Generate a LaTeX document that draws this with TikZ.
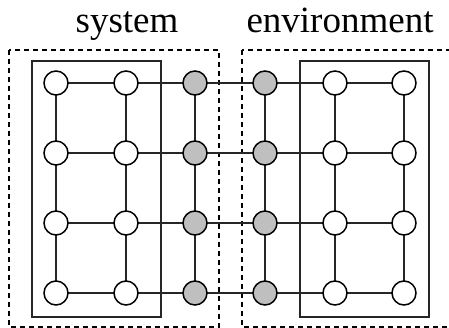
\documentclass[tikz,border=0pt]{standalone}
\usepackage{fontspec}
\setmainfont{Liberation Serif}
\begin{document}
\begin{tikzpicture}[x=1pt,y=-1pt,
  site/.style={circle,draw=black,line width=1.5pt,fill=white,minimum size=24pt,inner sep=0pt},
  bath/.style={site,fill=gray!50},
  bond/.style={line width=1.5pt,draw=black!85},
  region/.style={draw=black,line width=1.3pt,dash pattern=on 5pt off 4pt},
  part/.style={draw=black!85,line width=1.5pt},
  title/.style={font=\fontsize{37}{40}\selectfont,inner sep=0pt,anchor=base}]
\useasboundingbox (0,0) rectangle (449,328);
\begin{scope}
\clip (0,0) rectangle (449,328);
% dashed regions
\draw[region] (9,50) rectangle (219,327);
\draw[region] (242,50) rectangle (470,327);
\end{scope}
% solid blocks
\draw[part] (32,61) rectangle (161,317);
\draw[part] (300,61) rectangle (429,317);
% titles
\node[title] (sys) at (127,33) {system};
\node[title] (env) at (340,33) {environment};
% lattice sites
\foreach \c/\x in {1/56,2/126,3/195,4/265,5/335,6/404}{
  \foreach \r/\y in {1/83,2/153,3/223,4/293}{
    \coordinate (p-\c-\r) at (\x,\y);
  }
}
% bonds
\foreach \r in {1,2,3,4}{
  \foreach \c [evaluate=\c as \n using int(\c+1)] in {1,...,5}{
    \draw[bond] (p-\c-\r) -- (p-\n-\r);
  }
}
\foreach \c in {1,...,6}{
  \foreach \r [evaluate=\r as \n using int(\r+1)] in {1,2,3}{
    \draw[bond] (p-\c-\r) -- (p-\c-\n);
  }
}
% sites
\foreach \r in {1,2,3,4}{
  \node[site] (s-1-\r) at (p-1-\r) {};
  \node[site] (s-2-\r) at (p-2-\r) {};
  \node[bath] (s-3-\r) at (p-3-\r) {};
  \node[bath] (s-4-\r) at (p-4-\r) {};
  \node[site] (s-5-\r) at (p-5-\r) {};
  \node[site] (s-6-\r) at (p-6-\r) {};
}
\end{tikzpicture}
\end{document}
